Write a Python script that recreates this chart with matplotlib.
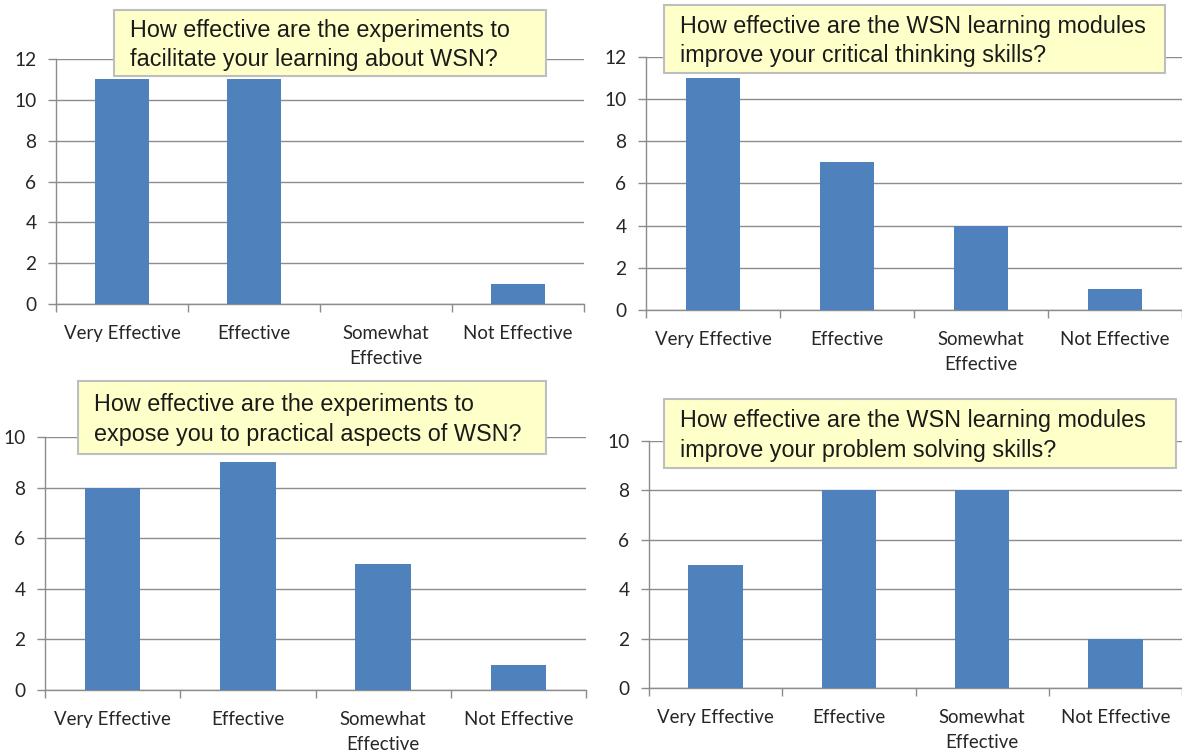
import matplotlib.pyplot as plt
from matplotlib.patches import Rectangle

W, H = 1182, 751

categories = ["Very Effective", "Effective", "Somewhat\nEffective", "Not Effective"]

experiments_learning = [11, 11, 0, 1]
modules_critical = [11, 7, 4, 1]
experiments_practical = [8, 9, 5, 1]
modules_problem = [5, 8, 8, 2]

titles = [
    "How effective are the experiments to\nfacilitate your learning about WSN?",
    "How effective are the WSN learning modules\nimprove your critical thinking skills?",
    "How effective are the experiments to\nexpose you to practical aspects of WSN?",
    "How effective are the WSN learning modules\nimprove your problem solving skills?",
]

BAR = "#4F81BD"
GRID = "#8C8C8C"
BOX_FILL = "#FFFFC9"
BOX_EDGE = "#BEBEBE"


def px_rect(left, top, right, bottom):
    return [left / W, 1 - bottom / H, (right - left) / W, (bottom - top) / H]


fig = plt.figure(figsize=(W / 100, H / 100), dpi=100)

# (axes box in pixels, y max, title box in pixels)
panels = [
    (experiments_learning, (56, 59, 584, 304), 12, (114, 10, 546, 76)),
    (modules_critical, (646, 57, 1182, 310), 12, (664, 5, 1165, 73)),
    (experiments_practical, (45, 437, 586, 690), 10, (78, 381, 546, 454)),
    (modules_problem, (649, 441, 1182, 688), 10, (664, 399, 1176, 468)),
]

for (values, axbox, ymax, tbox), title in zip(panels, titles):
    ax = fig.add_axes(px_rect(*axbox))
    x = range(len(categories))
    ax.bar(x, values, width=0.41, color=BAR, zorder=3)
    ax.set_xlim(-0.5, len(categories) - 0.5)
    ax.set_ylim(0, ymax)
    ax.set_yticks(range(0, ymax + 1, 2))
    ax.grid(axis="y", color=GRID, linewidth=1.0, zorder=0)
    for s in ("top", "right"):
        ax.spines[s].set_visible(False)
    for s in ("left", "bottom"):
        ax.spines[s].set_color(GRID)
        ax.spines[s].set_linewidth(1.0)
    ax.set_xticks(list(x))
    ax.set_xticklabels(categories, fontfamily="Lato", fontsize=13.4,
                       color="#262626", linespacing=1.55)
    ax.set_xticks([i - 0.5 for i in range(len(categories) + 1)], minor=True)
    ax.tick_params(axis="x", which="major", length=0, pad=15)
    ax.tick_params(axis="x", which="minor", length=6, color=GRID, width=1)
    ax.tick_params(axis="y", length=6, color=GRID, width=1, pad=8,
                   labelsize=13.8, labelcolor="#262626")
    for lab in ax.get_yticklabels():
        lab.set_fontfamily("Lato")

    # question box
    l, t, r, b = tbox
    fig.patches.append(Rectangle((l / W, 1 - b / H), (r - l) / W, (b - t) / H,
                                 transform=fig.transFigure, facecolor=BOX_FILL,
                                 edgecolor=BOX_EDGE, linewidth=1.5, zorder=5))
    fig.text((l + 16) / W, 1 - ((t + b) / 2 + 2) / H, title,
             fontfamily="Liberation Sans", fontsize=16.8, color="#1a1a1a",
             va="center", ha="left", linespacing=1.36, zorder=6)

fig.savefig("out.png", dpi=100)
